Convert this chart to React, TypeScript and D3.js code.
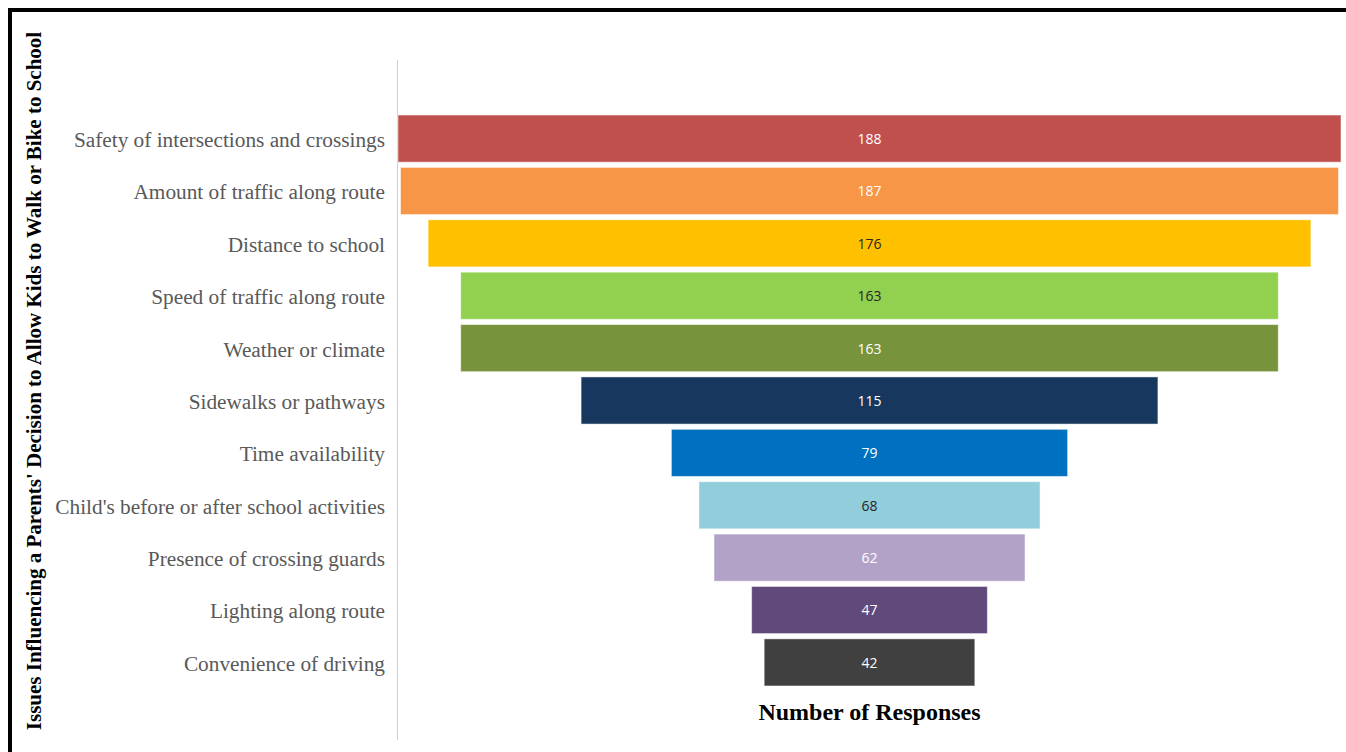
import React from "react";
import * as d3 from "d3";

const categories = [
  "Safety of intersections and crossings",
  "Amount of traffic along route",
  "Distance to school",
  "Speed of traffic along route",
  "Weather or climate",
  "Sidewalks or pathways",
  "Time availability",
  "Child's before or after school activities",
  "Presence of crossing guards",
  "Lighting along route",
  "Convenience of driving",
];
const values = [188, 187, 176, 163, 163, 115, 79, 68, 62, 47, 42];
const colors = [
  "#C0504D", "#F79646", "#FFC000", "#92D050", "#77933C", "#17375E",
  "#0070C0", "#92CDDC", "#B2A2C7", "#604A7B", "#404040",
];
const labelColors = [
  "#FFFFFF", "#FFFFFF", "#262626", "#262626", "#FFFFFF", "#FFFFFF",
  "#FFFFFF", "#262626", "#FFFFFF", "#FFFFFF", "#FFFFFF",
];
const yTitle = "Issues Influencing a Parents' Decision to Allow Kids to Walk or Bike to School";
const xTitle = "Number of Responses";

const W = 1346;
const H = 752;
const cx = 869.5;
const maxW = 943;

export default function App() {
  const y = d3
    .scaleBand<string>()
    .domain(categories)
    .range([115 - 2.6, 686 + 2.6])
    .paddingInner(0.1)
    .paddingOuter(0.05);
  const w = d3.scaleLinear().domain([0, 188]).range([0, maxW]);
  const serif = "'Liberation Serif', 'Times New Roman', serif";
  return (
    <svg
      width={W}
      height={H}
      style={{ position: "absolute", left: 0, top: 0, background: "#fff" }}
    >
      <rect x={10} y={10} width={W + 20} height={H + 20} fill="none" stroke="#000" strokeWidth={4} />
      <line x1={397.5} x2={397.5} y1={60} y2={740} stroke="#D0D0D0" strokeWidth={1} />
      {categories.map((c, i) => {
        const bw = w(values[i]);
        const yy = y(c)!;
        const bh = y.bandwidth();
        return (
          <g key={c}>
            <rect
              x={cx - bw / 2}
              y={yy}
              width={bw}
              height={bh}
              fill={colors[i]}
              stroke="rgba(255,255,255,0.5)"
              strokeWidth={1}
            />
            <text
              x={cx}
              y={yy + bh / 2 + 0.5}
              dy="0.35em"
              textAnchor="middle"
              fontFamily="'Open Sans', 'Liberation Sans', sans-serif"
              fontSize={14}
              fill={labelColors[i]}
            >
              {values[i]}
            </text>
            <text
              x={385}
              y={yy + bh / 2 + 1}
              dy="0.35em"
              textAnchor="end"
              fontFamily={serif}
              fontSize={21.3}
              fill="#595959"
            >
              {c}
            </text>
          </g>
        );
      })}
      <text
        transform={`translate(41, 381) rotate(-90)`}
        textAnchor="middle"
        fontFamily={serif}
        fontWeight="bold"
        fontSize={21}
        fill="#000"
      >
        {yTitle}
      </text>
      <text
        x={cx}
        y={720}
        textAnchor="middle"
        fontFamily={serif}
        fontWeight="bold"
        fontSize={24}
        fill="#000"
      >
        {xTitle}
      </text>
    </svg>
  );
}
